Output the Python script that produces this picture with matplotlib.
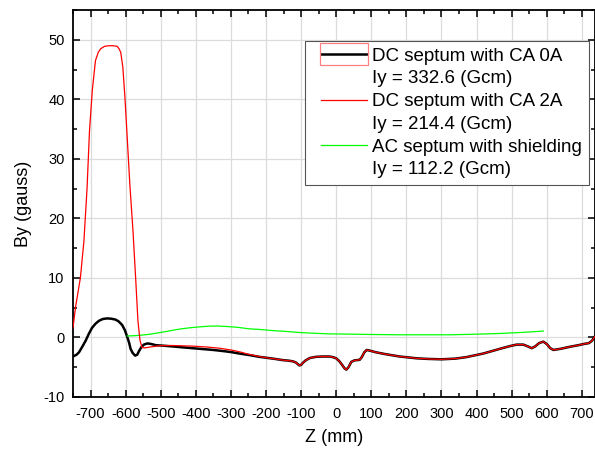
import matplotlib

matplotlib.use("Agg")
import matplotlib.pyplot as plt
from matplotlib.lines import Line2D
from matplotlib.legend_handler import HandlerLine2D
from matplotlib.patches import Rectangle
from matplotlib.ticker import MultipleLocator

plt.rcParams["font.family"] = ["Liberation Sans", "DejaVu Sans"]
plt.rcParams["axes.unicode_minus"] = False

# ---------------------------------------------------------------------------
# Data
# ---------------------------------------------------------------------------
# DC septum with CA 0A: part before the two DC curves coincide
BLACK_HEAD_Z = [-750, -740, -733, -724, -714, -705, -696, -686, -676, -665,
                -653, -641, -629, -620, -610, -602, -595, -590, -586, -580,
                -573, -567, -562, -555, -548, -538, -527, -514, -500, -467,
                -440, -410, -380, -350, -320, -300, -276, -248, -220]
BLACK_HEAD_BY = [-3.2, -2.9, -2.5, -1.6, -0.55, 0.6, 1.6, 2.3, 2.8, 3.1,
                 3.2, 3.15, 3.0, 2.7, 2.1, 1.2, 0.0, -0.9, -1.9, -2.6,
                 -3.05, -2.9, -2.3, -1.6, -1.2, -1.0, -1.1, -1.3, -1.35, -1.5,
                 -1.65, -1.8, -1.95, -2.1, -2.3, -2.45, -2.7, -2.95, -3.25]

# DC septum with CA 2A: part before the two DC curves coincide
RED_HEAD_Z = [-750, -743, -736, -729, -719, -710, -703, -695, -686, -678,
              -671, -660, -648, -636, -624, -619, -614, -608, -602, -595,
              -588, -579, -571, -565, -559, -553, -545, -530, -505, -470,
              -440, -410, -370, -333, -300, -276, -248, -219]
RED_HEAD_BY = [1.6, 5.0, 7.5, 10.0, 16.1, 25.0, 34.7, 41.5, 46.5, 47.9,
               48.5, 48.9, 49.0, 49.0, 48.9, 48.5, 47.9, 45.4, 40.3, 33.0,
               25.7, 17.8, 9.45, 2.8, -0.55, -1.7, -1.75, -1.6, -1.4, -1.35,
               -1.4, -1.45, -1.6, -1.8, -2.1, -2.4, -2.85, -3.2]

# common part of both DC curves
TAIL_Z = [-200, -175, -153, -135, -124, -115, -110, -105, -100, -94,
          -86, -75, -57, -40, -19, -10, 0, 9, 18, 24,
          29, 35, 43, 52, 60, 67, 73, 80, 87, 95,
          114, 140, 181, 229, 260, 300, 340, 371, 419, 467,
          495, 514, 533, 546, 557, 567, 578, 590, 600, 610,
          619, 640, 667, 690, 705, 720, 729, 736]
TAIL_BY = [-3.4, -3.6, -3.8, -3.9, -4.0, -4.2, -4.45, -4.7, -4.6, -4.2,
           -3.8, -3.45, -3.25, -3.2, -3.2, -3.3, -3.5, -4.0, -4.7, -5.2,
           -5.4, -5.0, -4.1, -3.85, -3.8, -3.75, -3.3, -2.5, -2.1, -2.2,
           -2.5, -2.8, -3.2, -3.5, -3.6, -3.67, -3.55, -3.3, -2.7, -1.9,
           -1.45, -1.2, -1.2, -1.5, -1.8, -1.5, -0.95, -0.7, -1.1, -1.8,
           -2.1, -1.9, -1.55, -1.3, -1.1, -0.95, -0.55, 0.1]

# AC septum with shielding
GREEN_Z = [-595, -575, -553, -530, -505, -480, -457, -435, -410, -385,
           -362, -340, -314, -280, -248, -219, -180, -140, -105, -60,
           -20, 38, 100, 181, 250, 324, 400, 467, 530, 590]
GREEN_BY = [0.25, 0.3, 0.4, 0.55, 0.8, 1.05, 1.3, 1.5, 1.67, 1.8,
            1.9, 1.92, 1.85, 1.7, 1.45, 1.35, 1.15, 1.0, 0.83, 0.7,
            0.6, 0.56, 0.5, 0.45, 0.45, 0.45, 0.55, 0.67, 0.85, 1.07]

LABELS = ["DC septum with CA 0A", "Iy = 332.6 (Gcm)",
          "DC septum with CA 2A", "Iy = 214.4 (Gcm)",
          "AC septum with shielding", "Iy = 112.2 (Gcm)"]


class ShiftedLine(HandlerLine2D):
    """Legend line drawn with an empty gap on its left, as in Origin."""

    def create_artists(self, legend, orig_handle, xdescent, ydescent,
                       width, height, fontsize, trans):
        gap = 0.55 * fontsize
        return super().create_artists(legend, orig_handle, xdescent - gap,
                                      ydescent, width - gap, height,
                                      fontsize, trans)


fig = plt.figure(figsize=(5.95, 4.49), dpi=100)
ax = fig.add_axes([73 / 595, 52 / 449, 521.5 / 595, 387 / 449])

black, = ax.plot(BLACK_HEAD_Z + TAIL_Z, BLACK_HEAD_BY + TAIL_BY,
                 color="black", linewidth=1.8, zorder=3)
red, = ax.plot(RED_HEAD_Z + TAIL_Z, RED_HEAD_BY + TAIL_BY,
               color="#ff0000", linewidth=0.9, zorder=4)
green, = ax.plot(GREEN_Z, GREEN_BY, color="#00ff00", linewidth=0.9, zorder=3)

ax.set_xlim(-750, 736)
ax.set_ylim(-10, 55)
ax.xaxis.set_major_locator(MultipleLocator(100))
ax.xaxis.set_minor_locator(MultipleLocator(50))
ax.yaxis.set_major_locator(MultipleLocator(10))
ax.yaxis.set_minor_locator(MultipleLocator(5))
ax.tick_params(which="both", direction="in", top=True, right=True,
               width=1.1, labelsize=10.5)
ax.tick_params(which="major", length=5)
ax.tick_params(which="minor", length=3)
ax.tick_params(axis="x", pad=7)
ax.tick_params(axis="y", pad=6)
for sp in ax.spines.values():
    sp.set_linewidth(1.3)
ax.grid(True, which="major", color="#dcdcdc", linewidth=0.9)
ax.set_axisbelow(True)

ax.set_xlabel("Z (mm)", fontsize=13, labelpad=6)
ax.set_ylabel("By (gauss)", fontsize=13, labelpad=8)

blank = Line2D([], [], color="none")
handles = [black, blank, red, blank, green, blank]
leg = ax.legend(handles, LABELS, loc="upper right",
                bbox_to_anchor=(0.9885, 0.92), borderaxespad=0,
                fontsize=13.5, frameon=True, fancybox=False,
                framealpha=1, edgecolor="#555555", labelspacing=0.3,
                handlelength=3.0, handletextpad=0.25, borderpad=0.35,
                handler_map={Line2D: ShiftedLine()})
leg.get_frame().set_linewidth(0.8)

# red selection box around the first legend symbol (Origin artefact)
fig.canvas.draw()
sym = leg.legend_handles[0]
pts = sym.get_transform().transform(sym.get_xydata())
x0, x1 = pts[:, 0].min(), pts[:, 0].max()
yc = pts[0, 1]
to_fig = fig.transFigure.inverted()
(fx0, fy0), (fx1, fy1) = to_fig.transform([(x0 - 1, yc - 11), (x1 + 1, yc + 11)])
fig.patches.append(Rectangle((fx0, fy0), fx1 - fx0, fy1 - fy0,
                             transform=fig.transFigure, fill=False,
                             edgecolor="#ff8080", linewidth=0.9, zorder=10))

fig.savefig("out.png", dpi=100)
